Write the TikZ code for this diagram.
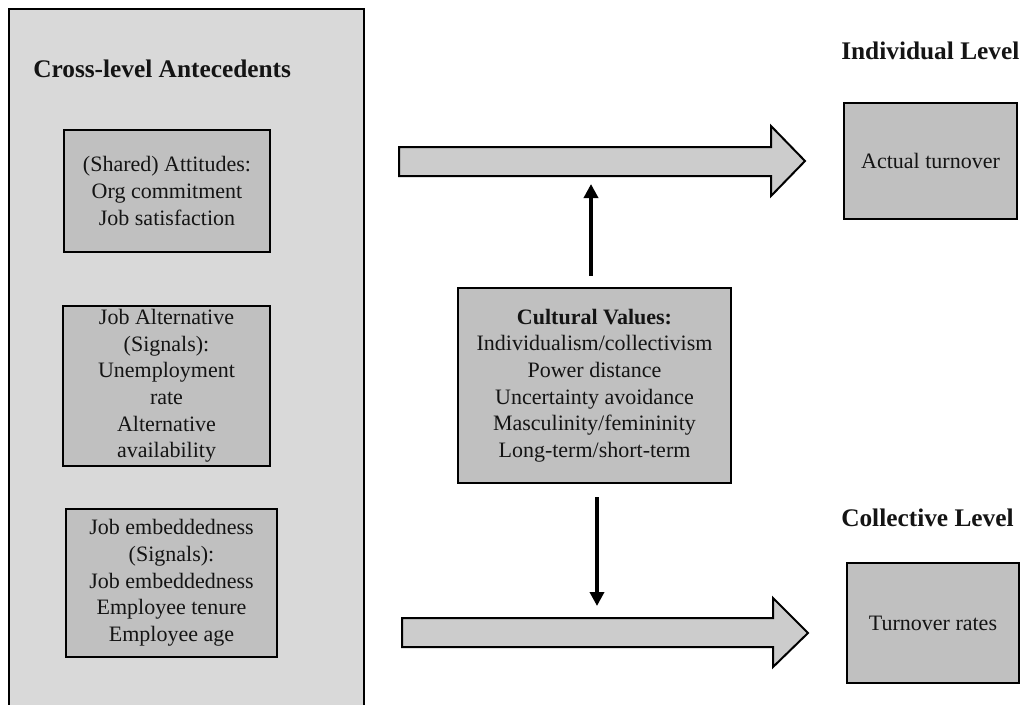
\documentclass[tikz,border=0pt]{standalone}
\usepackage{fontspec}
\setmainfont{Liberation Serif}
\usetikzlibrary{arrows.meta,calc}
\definecolor{panelgray}{HTML}{D9D9D9}
\definecolor{boxgray}{HTML}{C0C0C0}
\definecolor{arrowgray}{HTML}{CCCCCC}
\definecolor{inkcol}{HTML}{141414}
\newlength\px \setlength\px{0.75pt}
\begin{document}
\begin{tikzpicture}[x=0.75pt,y=-0.75pt,
  panel/.style={fill=panelgray, draw=black, line width=1.5pt},
  inbox/.style={fill=boxgray, draw=black, line width=2pt, inner sep=0pt, align=center, text=inkcol,
    font=\fontsize{16.5}{20}\selectfont},
  heading/.style={font=\bfseries\fontsize{19}{22}\selectfont, inner sep=0pt, anchor=base west, text=inkcol},
  blockarrow/.style={fill=arrowgray, draw=black, line width=1.5pt, line join=miter},
  conn/.style={line width=2.6pt, -{Triangle[length=10.5pt,width=10.5pt]}}]
\useasboundingbox (0,0) rectangle (1024,704);
\fill[white] (0,0) rectangle (1024,704);
\begin{scope}
  \clip (0,0) rectangle (1024,704);
  \draw[panel] (9,9) rectangle (364,730);
\end{scope}

\node[heading] (title) at (33,77) {Cross-level Antecedents};
\node[heading] (indiv) at (841,59) {Individual Level};
\node[heading] (coll) at (841,526) {Collective Level};

\node[inbox, minimum width=206\px, minimum height=122\px] (att) at (167,191)
  {(Shared) Attitudes:\\Org commitment\\Job satisfaction};
\node[inbox, minimum width=207\px, minimum height=160\px] (alt) at (166.5,386)
  {Job Alternative\\(Signals):\\Unemployment\\rate\\Alternative\\availability};
\node[inbox, minimum width=211\px, minimum height=148\px] (emb) at (171.5,583)
  {Job embeddedness\\(Signals):\\Job embeddedness\\Employee tenure\\Employee age};
\node[inbox, minimum width=273\px, minimum height=195\px] (cv) at (594.5,385.5)
  {\textbf{Cultural Values:}\\Individualism/collectivism\\Power distance\\Uncertainty avoidance\\Masculinity/femininity\\Long-term/short-term};
\node[inbox, minimum width=173\px, minimum height=116\px] (act) at (930.5,161) {Actual turnover};
\node[inbox, minimum width=172\px, minimum height=120\px] (rate) at (933,623) {Turnover rates};

\draw[blockarrow] (399,147) -- (771,147) -- (771,126) -- (805,161) -- (771,196) -- (771,176) -- (399,176) -- cycle;
\draw[blockarrow] (402,618) -- (773,618) -- (773,598) -- (808,633) -- (773,667) -- (773,647) -- (402,647) -- cycle;
\coordinate (topshaft) at (591,176);
\coordinate (botshaft) at (597,618);

\draw[conn, shorten <=11\px, shorten >=8\px] (cv.north -| topshaft) -- (topshaft);
\draw[conn, shorten <=13\px, shorten >=12\px] (cv.south -| botshaft) -- (botshaft);
\end{tikzpicture}
\end{document}
